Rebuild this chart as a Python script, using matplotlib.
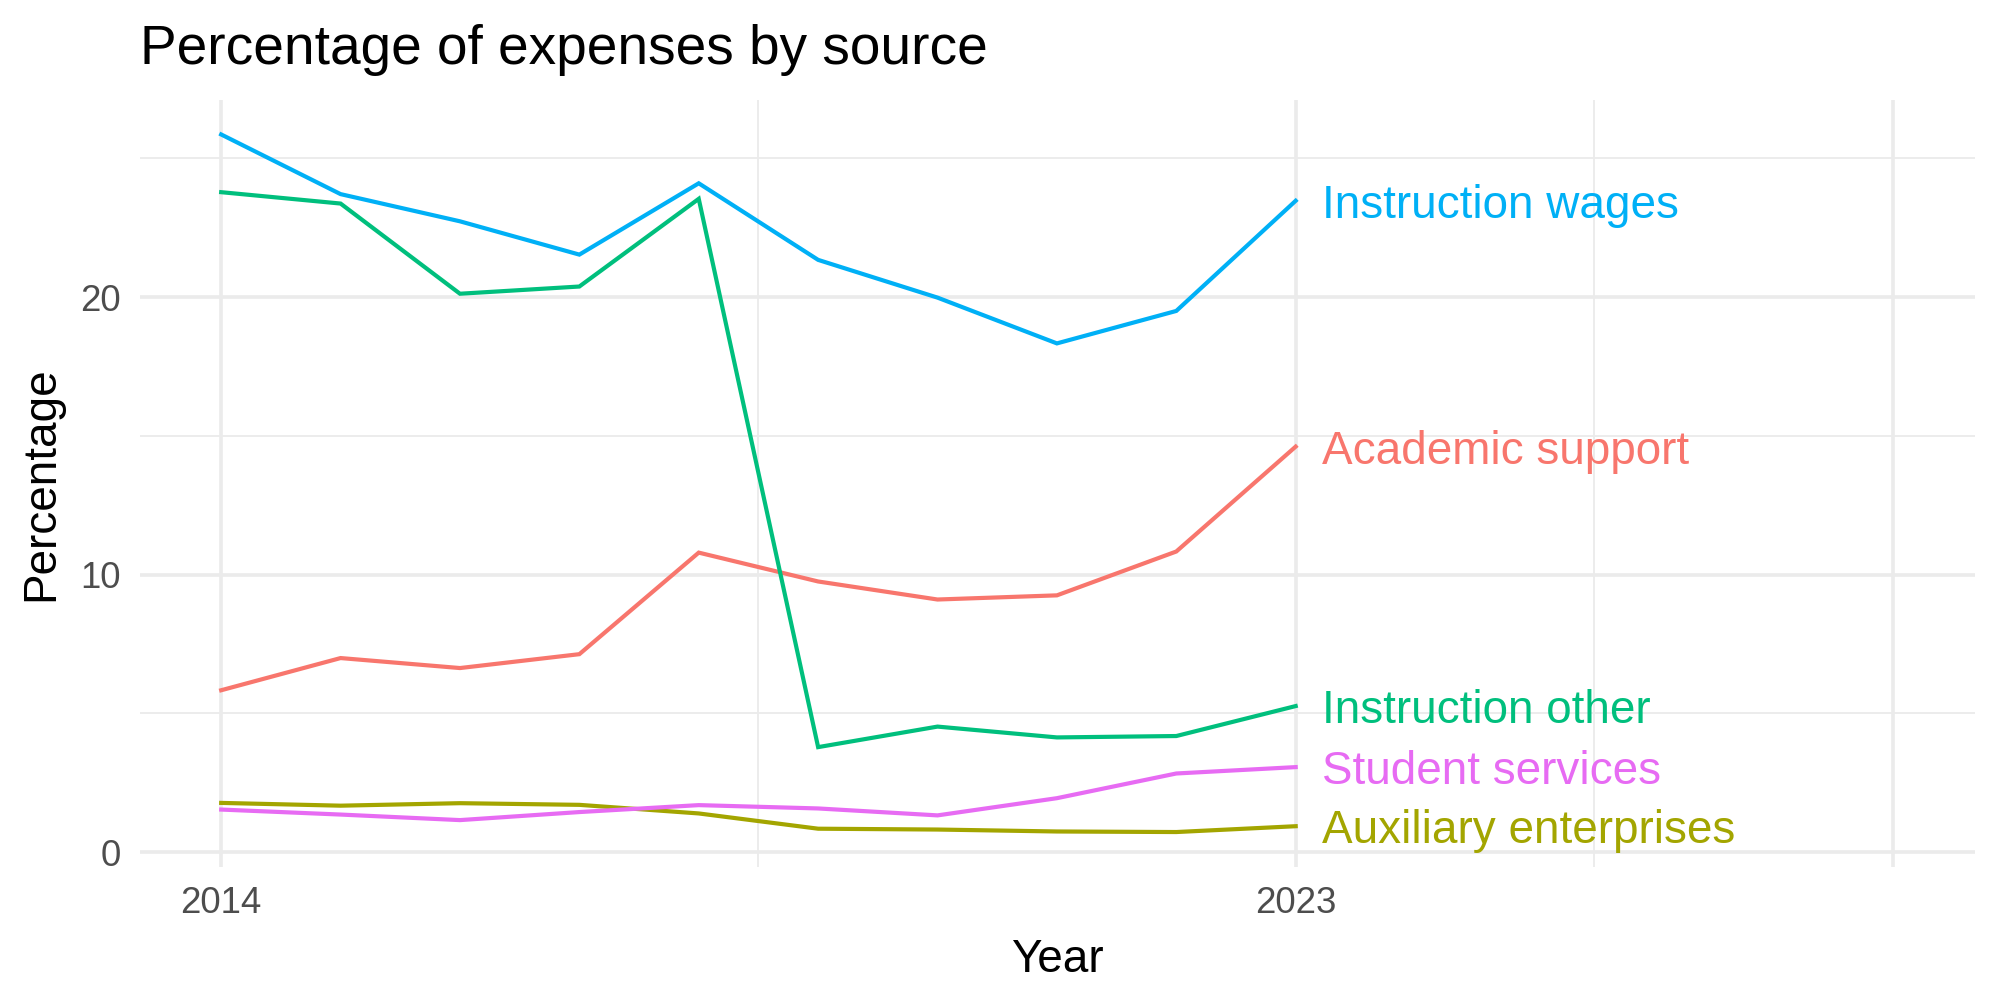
import numpy as np
import matplotlib
matplotlib.use("Agg")
import matplotlib.pyplot as plt

plt.rcParams['font.family'] = ['Liberation Sans', 'DejaVu Sans']

years = [2014, 2015, 2016, 2017, 2018, 2019, 2020, 2021, 2022, 2023]
instruction_wages = [25.86, 23.71, 22.73, 21.53, 24.10, 21.34, 19.98, 18.33, 19.50, 23.47]
instruction_other = [23.78, 23.37, 20.12, 20.38, 23.54, 3.78, 4.52, 4.13, 4.18, 5.26]
academic_support = [5.83, 6.99, 6.63, 7.13, 10.79, 9.75, 9.10, 9.25, 10.83, 14.61]
student_services = [1.53, 1.35, 1.15, 1.44, 1.69, 1.57, 1.32, 1.94, 2.83, 3.06]
auxiliary = [1.77, 1.67, 1.76, 1.70, 1.39, 0.84, 0.81, 0.74, 0.72, 0.93]

series = [
    ("Academic support", academic_support, "#F8766D"),
    ("Auxiliary enterprises", auxiliary, "#A3A500"),
    ("Instruction other", instruction_other, "#00BF7D"),
    ("Instruction wages", instruction_wages, "#00B0F6"),
    ("Student services", student_services, "#E76BF3"),
]

x_major = [2014, 2023, 2028]
x_labels = ["2014", "2023", ""]
x_minor = [2018.5, 2025.5]
y_major = [0, 10, 20]
y_minor = [5, 15, 25]

fig = plt.figure(figsize=(20, 10), dpi=100)
ax = fig.add_axes([0.07, 0.133, 0.9175, 0.7675])

for name, vals, col in series:
    ax.plot(years, vals, color=col, lw=3.0, solid_joinstyle='miter', zorder=3)
    ax.text(years[-1] + 0.22, vals[-1], name, color=col, fontsize=33,
            ha='left', va='center_baseline', zorder=4)

ax.set_xlim(2013.32, 2028.69)
ax.set_ylim(-0.54, 27.12)
ax.set_xticks(x_major)
ax.set_xticklabels(x_labels)
ax.set_xticks(x_minor, minor=True)
ax.set_yticks(y_major)
ax.set_yticks(y_minor, minor=True)

ax.grid(which='major', color='#EBEBEB', lw=2.6, zorder=0)
ax.grid(which='minor', color='#EBEBEB', lw=1.3, zorder=0)
ax.tick_params(which='both', length=0)
ax.tick_params(axis='x', labelsize=26.4, labelcolor='#4D4D4D', pad=14)
ax.tick_params(axis='y', labelsize=26.4, labelcolor='#4D4D4D', pad=14)
for s in ax.spines.values():
    s.set_visible(False)

ax.set_xlabel("Year", fontsize=33, labelpad=12)
ax.set_ylabel("Percentage", fontsize=33, labelpad=12)
fig.text(0.07, 0.936, "Percentage of expenses by source", fontsize=39.6,
         ha='left', va='baseline')

fig.savefig("out.png", dpi=100)
